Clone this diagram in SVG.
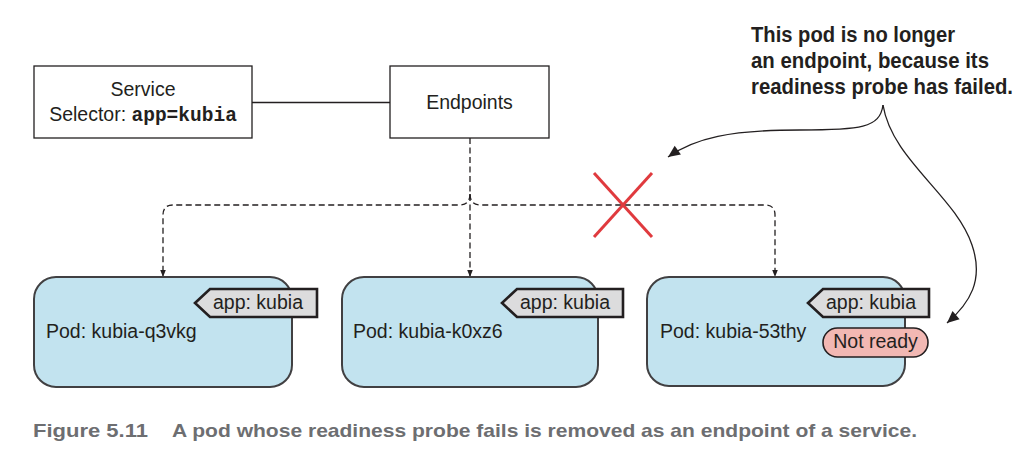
<svg xmlns="http://www.w3.org/2000/svg" width="1036" height="456" viewBox="0 0 1036 456">
<style>
  .box { fill: #ffffff; stroke: #231f20; stroke-width: 1.3; }
  .pod { fill: #c2e3ef; stroke: #414042; stroke-width: 2; }
  .tag { fill: #dcdcdd; stroke: #231f20; stroke-width: 2.6; stroke-linejoin: miter; }
  .pill { fill: #f2b8b3; stroke: #231f20; stroke-width: 1.6; }
  .t { font-family: "Liberation Sans", Arial, sans-serif; font-size: 19.5px; fill: #231f20; }
  .mono { font-family: "Liberation Mono", "Courier New", monospace; font-weight: bold; }
  .dash { fill: none; stroke: #231f20; stroke-width: 1.3; stroke-dasharray: 6 3.5; }
  .solid { fill: none; stroke: #231f20; stroke-width: 1.3; }
  .note { font-family: "Liberation Sans", Arial, sans-serif; font-weight: bold; font-size: 22px; fill: #231f20; }
  .cap { font-family: "Liberation Sans", Arial, sans-serif; font-weight: bold; font-size: 19px; fill: #6d6e71; }
</style>
<defs>
  <marker id="arr" viewBox="0 0 10 10" refX="10" refY="5" markerWidth="7" markerHeight="9" orient="auto" markerUnits="userSpaceOnUse">
    <path d="M0,1 L10,5 L0,9 Z" fill="#231f20"/>
  </marker>
  <marker id="arr2" viewBox="0 0 10 10" refX="10" refY="5" markerWidth="14" markerHeight="12" orient="auto" markerUnits="userSpaceOnUse">
    <path d="M0,0.5 L10,5 L0,9.5 Z" fill="#231f20"/>
  </marker>
</defs>

<g id="connectors">
  <line class="solid" x1="252" y1="102.5" x2="390" y2="102.5"/>
  <line class="dash" x1="470" y1="138" x2="470" y2="277" marker-end="url(#arr)"/>
  <path class="dash" d="M470,194 Q470,205 459,205 H173 Q163,205 163,215 V277" marker-end="url(#arr)"/>
  <path class="dash" d="M470,194 Q470,205 481,205 H765 Q775,205 775,215 V277" marker-end="url(#arr)"/>
  <path class="solid" d="M883,105 C880,128 860,130 800,130 C730,130 695,138 668,157" marker-end="url(#arr2)"/>
  <path class="solid" d="M883,105 C892,160 955,195 972,245 C984,280 970,303 947,323" marker-end="url(#arr2)"/>
</g>

<g id="cross">
  <line x1="594" y1="173" x2="652" y2="237" stroke="#e03a3e" stroke-width="3"/>
  <line x1="652" y1="173" x2="594" y2="237" stroke="#e03a3e" stroke-width="3"/>
</g>

<g id="service">
  <rect class="box" x="34" y="66" width="218" height="72"/>
  <text class="t" x="143" y="96" text-anchor="middle">Service</text>
  <text class="t" x="143" y="121" text-anchor="middle">Selector: <tspan class="mono">app=kubia</tspan></text>
</g>

<g id="endpoints">
  <rect class="box" x="390" y="66" width="159" height="72"/>
  <text class="t" x="469.5" y="109" text-anchor="middle">Endpoints</text>
</g>

<g id="pod1">
  <rect class="pod" x="34" y="277" width="258" height="110" rx="22"/>
  <polygon class="tag" points="195,303 210,289 317,289 317,317 210,317"/>
  <text class="t" x="213" y="309">app: kubia</text>
  <text class="t" x="46" y="338">Pod: kubia-q3vkg</text>
</g>

<g id="pod2">
  <rect class="pod" x="342" y="277" width="256" height="110" rx="22"/>
  <polygon class="tag" points="502,303 517,289 623,289 623,317 517,317"/>
  <text class="t" x="520" y="309">app: kubia</text>
  <text class="t" x="353" y="338">Pod: kubia-k0xz6</text>
</g>

<g id="pod3">
  <rect class="pod" x="647" y="277" width="258" height="109" rx="22"/>
  <polygon class="tag" points="808,303 823,289 929,289 929,317 823,317"/>
  <text class="t" x="826" y="309">app: kubia</text>
  <text class="t" x="660" y="338">Pod: kubia-53thy</text>
  <rect class="pill" x="823" y="328" width="105" height="29" rx="14.5"/>
  <text class="t" x="875.5" y="348" text-anchor="middle">Not ready</text>
</g>

<g id="annotation">
  <text class="note" x="751" y="42" textLength="204" lengthAdjust="spacingAndGlyphs">This pod is no longer</text>
  <text class="note" x="751" y="68" textLength="238" lengthAdjust="spacingAndGlyphs">an endpoint, because its</text>
  <text class="note" x="751" y="94" textLength="262" lengthAdjust="spacingAndGlyphs">readiness probe has failed.</text>
</g>

<g id="caption">
  <text class="cap" x="33" y="437" textLength="115" lengthAdjust="spacingAndGlyphs">Figure 5.11</text>
  <text class="cap" x="172" y="437" textLength="745" lengthAdjust="spacingAndGlyphs">A pod whose readiness probe fails is removed as an endpoint of a service.</text>
</g>
</svg>
